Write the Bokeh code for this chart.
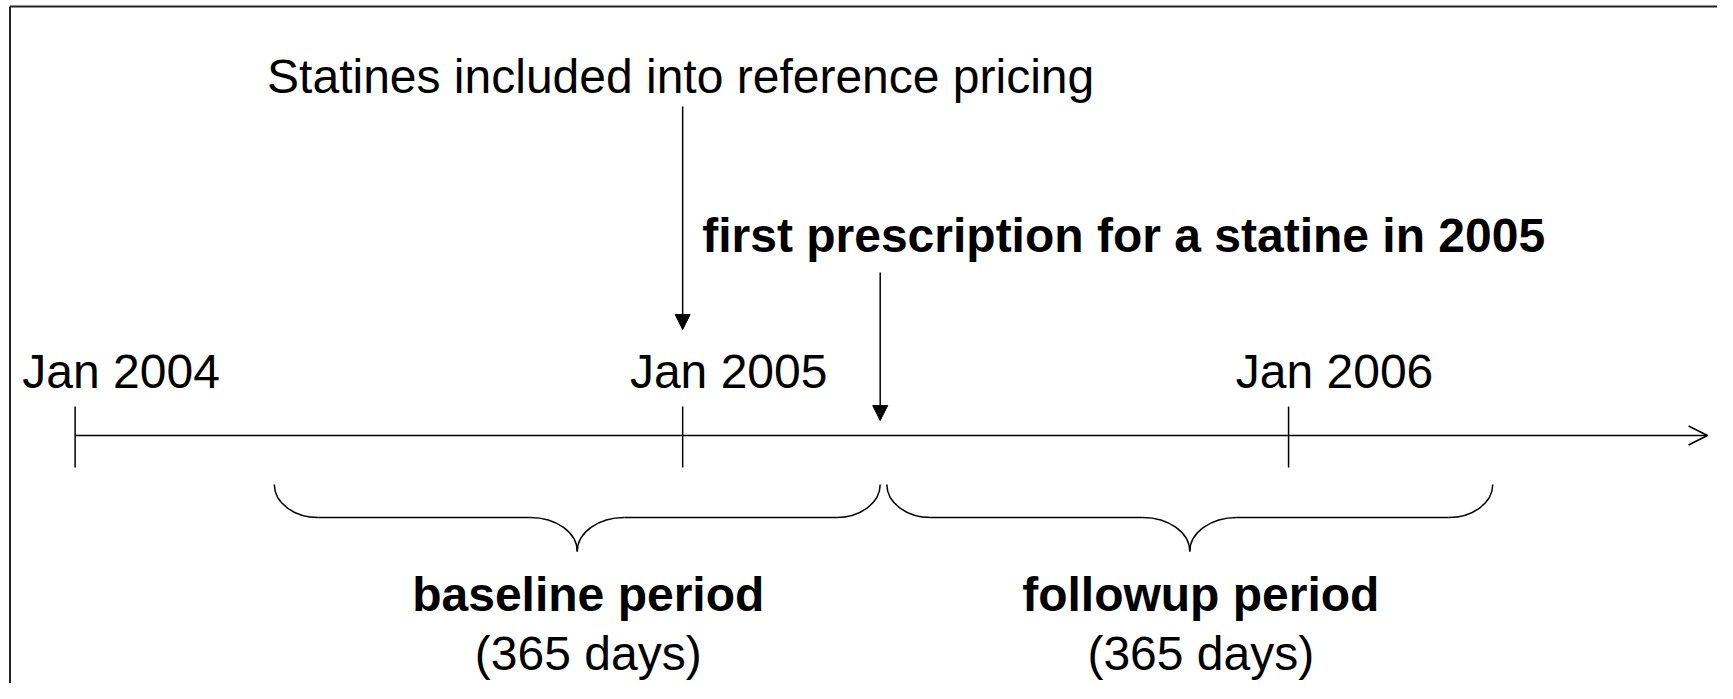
import pandas as pd
from bokeh.plotting import figure
from bokeh.models import Range1d, Arrow, NormalHead, OpenHead, ColumnDataSource
from bokeh.core.properties import value
from bokeh.embed import file_html
from bokeh.resources import INLINE

# ---------------- data ----------------
origin_date = "2004-01-01"
tick_dates = ["2004-01-01", "2005-01-01", "2006-01-01"]
tick_labels = ["Jan 2004", "Jan 2005", "Jan 2006"]
reference_pricing_date = "2005-01-01"
reference_pricing_label = "Statines included into reference pricing"
first_prescription_date = "2005-04-30"
first_prescription_label = "first prescription for a statine in 2005"
period_names = ["baseline period", "followup period"]
period_days = [365, 365]
period_sublabels = ["(365 days)", "(365 days)"]

def days(d):
    return (pd.Timestamp(d) - pd.Timestamp(origin_date)).days

tick_x = [days(d) for d in tick_dates]
ref_x = days(reference_pricing_date)
event_x = days(first_prescription_date)

# ---------------- layout (picture pixel mapping) ----------------
W, H = 1717, 683
PX_ORIGIN = 74.6      # px of day 0
PX_PER_DAY = 1.66
TXT = -17             # baseline correction for text glyphs

def px2day(px):
    return (px - PX_ORIGIN) / PX_PER_DAY

def day2px(d):
    return PX_ORIGIN + PX_PER_DAY * d

FONT = value("Liberation Sans")
FS = "48px"

p = figure(width=W, height=H, output_backend="svg", toolbar_location=None,
           x_range=Range1d(px2day(0), px2day(W)),
           y_range=Range1d(H, 0),
           x_axis_type=None, y_axis_type=None, min_border=0)
p.outline_line_color = None
p.grid.visible = False
p.background_fill_color = "white"
p.border_fill_color = "white"

# frame (left and top edges only)
p.segment(x0=[px2day(9.5), px2day(9.5)], y0=[6, 6], x1=[px2day(9.5), px2day(1800)], y1=[800, 6],
          line_color="#222222", line_width=2)

# time axis with open arrow head
AXIS_Y = 435
p.add_layout(Arrow(x_start=0, y_start=AXIS_Y, x_end=px2day(1707), y_end=AXIS_Y,
                   line_color="black", line_width=1.5,
                   end=OpenHead(size=19, line_color="black", line_width=1.5)))

# ticks
p.segment(x0=tick_x, y0=[406] * len(tick_x), x1=tick_x, y1=[467] * len(tick_x),
          line_color="black", line_width=1.5)

# tick labels
p.text(x=tick_x, y=[388 + TXT] * len(tick_x), text=tick_labels, x_offset=46,
       text_align="center", text_baseline="alphabetic",
       text_font=FONT, text_font_size=FS, text_color="black")

# reference pricing annotation
p.text(x=[ref_x], y=[93 + TXT], text=[reference_pricing_label], x_offset=-2,
       text_align="center", text_baseline="alphabetic",
       text_font=FONT, text_font_size=FS, text_color="black")
p.add_layout(Arrow(x_start=ref_x, y_start=106, x_end=ref_x, y_end=329,
                   line_color="black", line_width=1.5,
                   end=NormalHead(size=15, fill_color="black", line_color="black", line_width=1)))

# first prescription annotation
p.text(x=[event_x], y=[252 + TXT], text=[first_prescription_label], x_offset=-178,
       text_align="left", text_baseline="alphabetic",
       text_font=FONT, text_font_size=FS, text_font_style="bold", text_color="black")
p.add_layout(Arrow(x_start=event_x, y_start=272, x_end=event_x, y_end=420,
                   line_color="black", line_width=1.5,
                   end=NormalHead(size=15, fill_color="black", line_color="black", line_width=1)))

# braces
periods = [(event_x - period_days[0], event_x),
           (event_x + 4, event_x + 4 + period_days[1])]
Y_TOP, Y_MID, Y_TIP = 484, 517, 551
R_END, R_MID = 44, 47
K = 0.5523

bz = dict(x0=[], y0=[], x1=[], y1=[], cx0=[], cy0=[], cx1=[], cy1=[])
seg = dict(x0=[], y0=[], x1=[], y1=[])

def add_bz(a, b, c0, c1):
    bz["x0"].append(px2day(a[0])); bz["y0"].append(a[1])
    bz["x1"].append(px2day(b[0])); bz["y1"].append(b[1])
    bz["cx0"].append(px2day(c0[0])); bz["cy0"].append(c0[1])
    bz["cx1"].append(px2day(c1[0])); bz["cy1"].append(c1[1])

def add_seg(a, b):
    seg["x0"].append(px2day(a[0])); seg["y0"].append(a[1])
    seg["x1"].append(px2day(b[0])); seg["y1"].append(b[1])

centers = []
for d0, d1 in periods:
    x0, x1 = day2px(d0), day2px(d1)
    xc = (x0 + x1) / 2
    centers.append(px2day(xc))
    dy1 = Y_MID - Y_TOP
    dy2 = Y_TIP - Y_MID
    add_bz((x0, Y_TOP), (x0 + R_END, Y_MID), (x0, Y_TOP + K * dy1), (x0 + (1 - K) * R_END, Y_MID))
    add_seg((x0 + R_END, Y_MID), (xc - R_MID, Y_MID))
    add_bz((xc - R_MID, Y_MID), (xc, Y_TIP), (xc - (1 - K) * R_MID, Y_MID), (xc, Y_TIP - K * dy2))
    add_bz((xc, Y_TIP), (xc + R_MID, Y_MID), (xc, Y_TIP - K * dy2), (xc + (1 - K) * R_MID, Y_MID))
    add_seg((xc + R_MID, Y_MID), (x1 - R_END, Y_MID))
    add_bz((x1 - R_END, Y_MID), (x1, Y_TOP), (x1 - (1 - K) * R_END, Y_MID), (x1, Y_TOP + K * dy1))

p.bezier(source=ColumnDataSource(bz), x0="x0", y0="y0", x1="x1", y1="y1",
         cx0="cx0", cy0="cy0", cx1="cx1", cy1="cy1", line_color="black", line_width=1.5)
p.segment(source=ColumnDataSource(seg), x0="x0", y0="y0", x1="x1", y1="y1",
          line_color="black", line_width=1.5)

# period labels
p.text(x=centers, y=[611 + TXT] * len(centers), text=period_names, x_offset=11,
       text_align="center", text_baseline="alphabetic",
       text_font=FONT, text_font_size=FS, text_font_style="bold", text_color="black")
p.text(x=centers, y=[670 + TXT] * len(centers), text=period_sublabels, x_offset=11,
       text_align="center", text_baseline="alphabetic",
       text_font=FONT, text_font_size=FS, text_color="black")

open("out.html", "w").write(file_html(p, INLINE))
